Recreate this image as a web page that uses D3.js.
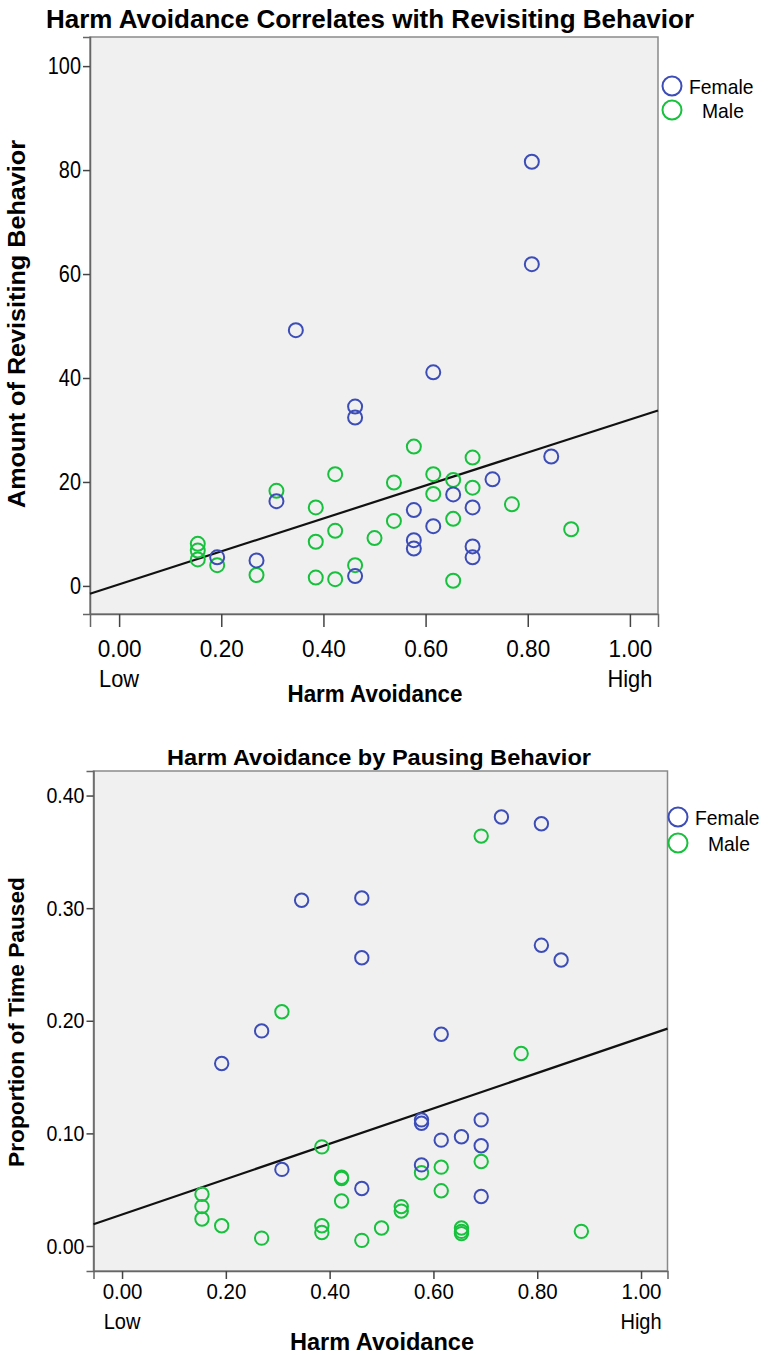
<!DOCTYPE html>
<html>
<head>
<meta charset="utf-8">
<script src="https://cdn.jsdelivr.net/npm/d3@7"></script>
<style>
  body { margin: 0; background: #fff; }
  text { font-family: "Liberation Sans", Arial, sans-serif; }
</style>
</head>
<body>
<div id="canvas"></div>
<script>
// Top chart: harm avoidance vs amount of revisiting behavior
const revisitFemaleHarm = [0.808, 0.808, 0.346, 0.615, 0.462, 0.462, 0.846, 0.731, 0.654, 0.692,
  0.577, 0.615, 0.577, 0.577, 0.692, 0.692, 0.308, 0.192, 0.269, 0.462];
const revisitFemale = [81.6, 61.9, 49.2, 41.1, 34.5, 32.4, 24.9, 20.5, 17.6, 15.1,
  14.6, 11.5, 8.8, 7.2, 7.6, 5.5, 16.3, 5.5, 4.9, 1.9];
const revisitMaleHarm = [0.154, 0.154, 0.154, 0.192, 0.269, 0.308, 0.385, 0.385, 0.385, 0.423,
  0.423, 0.423, 0.462, 0.500, 0.538, 0.538, 0.577, 0.615, 0.615, 0.654,
  0.654, 0.654, 0.692, 0.692, 0.769, 0.885];
const revisitMale = [8.1, 6.8, 5.1, 4.0, 2.1, 18.3, 15.1, 8.5, 1.6, 21.5,
  10.6, 1.3, 4.0, 9.2, 19.9, 12.5, 26.8, 21.5, 17.7, 20.4,
  12.9, 1.0, 24.7, 18.9, 15.7, 10.9];
const revisitFit = { intercept: 0.3, slope: 31.7 };
const revisitTicks = [0, 20, 40, 60, 80, 100];

// Bottom chart: harm avoidance vs proportion of time paused
const pauseFemaleHarm = [0.731, 0.808, 0.808, 0.846, 0.346, 0.462, 0.462, 0.269, 0.192, 0.308,
  0.462, 0.615, 0.577, 0.577, 0.692, 0.615, 0.654, 0.692, 0.577, 0.692];
const pauseFemale = [0.381, 0.375, 0.267, 0.254, 0.307, 0.309, 0.256, 0.191, 0.162, 0.068,
  0.051, 0.188, 0.112, 0.109, 0.112, 0.094, 0.097, 0.089, 0.072, 0.044];
const pauseMaleHarm = [0.692, 0.308, 0.769, 0.385, 0.423, 0.423, 0.423, 0.154, 0.154, 0.154,
  0.192, 0.269, 0.385, 0.385, 0.462, 0.500, 0.538, 0.538, 0.577, 0.615,
  0.615, 0.692, 0.654, 0.654, 0.654, 0.885];
const pauseMale = [0.364, 0.208, 0.171, 0.088, 0.060, 0.061, 0.040, 0.046, 0.035, 0.024,
  0.018, 0.007, 0.018, 0.012, 0.005, 0.016, 0.035, 0.031, 0.065, 0.070,
  0.049, 0.075, 0.016, 0.013, 0.011, 0.013];
const pauseFit = { intercept: 0.028, slope: 0.157 };
const pauseTicks = [0, 0.1, 0.2, 0.3, 0.4];

const harmTicks = [0, 0.2, 0.4, 0.6, 0.8, 1.0];
const groups = ["Female", "Male"];
const groupColors = { Female: "#3d4db7", Male: "#17c13d" };

const svg = d3.select("#canvas").append("svg")
  .attr("width", 769)
  .attr("height", 1355);

// the original text is narrower than Liberation Sans, so squeeze it a bit
function squeeze(sel, k) {
  sel.each(function() {
    const w = this.getComputedTextLength();
    d3.select(this).attr("textLength", w * k).attr("lengthAdjust", "spacingAndGlyphs");
  });
}

function drawChart(c) {
  const g = svg.append("g");
  const x = d3.scaleLinear().domain(c.xDomain).range([c.left, c.right]);
  const y = d3.scaleLinear().domain(c.yDomain).range([c.bottom, c.top]);

  // plot background and frame
  g.append("rect")
    .attr("x", c.left).attr("y", c.top)
    .attr("width", c.right - c.left).attr("height", c.bottom - c.top)
    .style("fill", "#f0f0f0")
    .style("stroke", "#8a8a8a")
    .style("stroke-width", 1.5);

  // y axis
  const yAxis = g.append("g")
    .attr("transform", `translate(${c.left},0)`)
    .call(d3.axisLeft(y).tickValues(c.yTicks).tickFormat(c.yFormat)
      .tickSize(c.yTickSize).tickPadding(2));
  yAxis.select(".domain").style("stroke", "#666").style("stroke-width", 1.5);
  yAxis.selectAll(".tick line").style("stroke", "#444").style("stroke-width", 1.5);
  yAxis.selectAll("text").style("font-size", c.tickFont + "px").style("fill", "#000")
    .call(squeeze, c.yTickK);

  // x axis
  const xAxis = g.append("g")
    .attr("transform", `translate(0,${c.bottom})`)
    .call(d3.axisBottom(x).tickValues(harmTicks).tickFormat(d3.format(".2f"))
      .tickSize(c.xTickSize).tickPadding(c.xTickPad));
  xAxis.select(".domain").style("stroke", "#666").style("stroke-width", 1.5);
  xAxis.selectAll(".tick line").style("stroke", "#444").style("stroke-width", 1.5);
  xAxis.selectAll("text").style("font-size", c.tickFont + "px").style("fill", "#000")
    .call(squeeze, c.xTickK);

  // fit line
  const line = d3.line().x(d => x(d)).y(d => y(c.fit.intercept + c.fit.slope * d));
  g.append("path")
    .datum(c.xDomain)
    .attr("d", line)
    .style("fill", "none")
    .style("stroke", "#111")
    .style("stroke-width", 2.2);

  // points, male first so female sits on top where they overlap
  const points = [];
  c.maleX.forEach((v, i) => points.push({ x: v, y: c.maleY[i], group: "Male" }));
  c.femaleX.forEach((v, i) => points.push({ x: v, y: c.femaleY[i], group: "Female" }));
  g.selectAll(".pt")
    .data(points)
    .enter().append("circle")
    .attr("class", "pt")
    .attr("cx", d => x(d.x))
    .attr("cy", d => y(d.y))
    .attr("r", c.r)
    .style("fill", "none")
    .style("stroke", d => groupColors[d.group])
    .style("stroke-width", 2);

  // legend
  groups.forEach((name, i) => {
    g.append("circle")
      .attr("cx", c.legend.x).attr("cy", c.legend.y + i * c.legend.step)
      .attr("r", 9.5)
      .style("fill", "none")
      .style("stroke", groupColors[name])
      .style("stroke-width", 2);
    g.append("text")
      .attr("x", c.legend.x + c.legend.textDx[i]).attr("y", c.legend.y + i * c.legend.step + 7.5)
      .style("font-size", "21px")
      .text(name)
      .call(squeeze, 0.92);
  });

  // title
  g.append("text")
    .attr("x", c.title.x).attr("y", c.title.y)
    .attr("text-anchor", "middle")
    .attr("textLength", c.title.len)
    .attr("lengthAdjust", "spacingAndGlyphs")
    .style("font-size", c.title.size + "px")
    .style("font-weight", "bold")
    .text(c.title.text);

  // low / high anchors under the end ticks
  ["Low", "High"].forEach((label, i) => {
    g.append("text")
      .attr("x", x(i)).attr("y", c.lowY)
      .attr("text-anchor", "middle")
      .style("font-size", c.tickFont + "px")
      .text(label)
      .call(squeeze, 0.91);
  });

  // x axis label
  g.append("text")
    .attr("x", c.xLabel.x).attr("y", c.xLabel.y)
    .attr("text-anchor", "middle")
    .attr("textLength", c.xLabel.len)
    .attr("lengthAdjust", "spacingAndGlyphs")
    .style("font-size", c.xLabel.size + "px")
    .style("font-weight", "bold")
    .text("Harm Avoidance");

  // y axis label
  g.append("text")
    .attr("transform", `translate(${c.yLabel.x},${c.yLabel.y}) rotate(-90)`)
    .attr("text-anchor", "middle")
    .attr("textLength", c.yLabel.len)
    .attr("lengthAdjust", "spacingAndGlyphs")
    .style("font-size", c.yLabel.size + "px")
    .style("font-weight", "bold")
    .text(c.yLabel.text);
}

drawChart({
  left: 90, right: 658, top: 37, bottom: 614,
  xDomain: [-0.057, 1.055], yDomain: [-5.4, 105.6],
  yTicks: revisitTicks, yFormat: d3.format("d"),
  tickFont: 24, yTickK: 0.83, xTickK: 0.94,
  yTickSize: 7, xTickSize: 13, xTickPad: 13,
  femaleX: revisitFemaleHarm, femaleY: revisitFemale,
  maleX: revisitMaleHarm, maleY: revisitMale,
  fit: revisitFit, r: 7,
  legend: { x: 672, y: 86, step: 24, textDx: [17, 30] },
  title: { text: "Harm Avoidance Correlates with Revisiting Behavior", x: 370, y: 28, size: 26, len: 648 },
  lowY: 687,
  xLabel: { x: 375, y: 702, size: 24, len: 175 },
  yLabel: { text: "Amount of Revisiting Behavior", x: 25, y: 324, size: 24, len: 368 }
});

drawChart({
  left: 93.5, right: 667.5, top: 771, bottom: 1271,
  xDomain: [-0.055, 1.051], yDomain: [-0.0222, 0.4218],
  yTicks: pauseTicks, yFormat: d3.format(".2f"),
  tickFont: 22, yTickK: 0.89, xTickK: 0.93,
  yTickSize: 7, xTickSize: 8, xTickPad: 4,
  femaleX: pauseFemaleHarm, femaleY: pauseFemale,
  maleX: pauseMaleHarm, maleY: pauseMale,
  fit: pauseFit, r: 6.7,
  legend: { x: 678, y: 817, step: 26, textDx: [17, 30] },
  title: { text: "Harm Avoidance by Pausing Behavior", x: 379, y: 765, size: 22, len: 424 },
  lowY: 1329,
  xLabel: { x: 382, y: 1350, size: 24, len: 184 },
  yLabel: { text: "Proportion of Time Paused", x: 24, y: 1022, size: 22, len: 290 }
});
</script>
</body>
</html>
